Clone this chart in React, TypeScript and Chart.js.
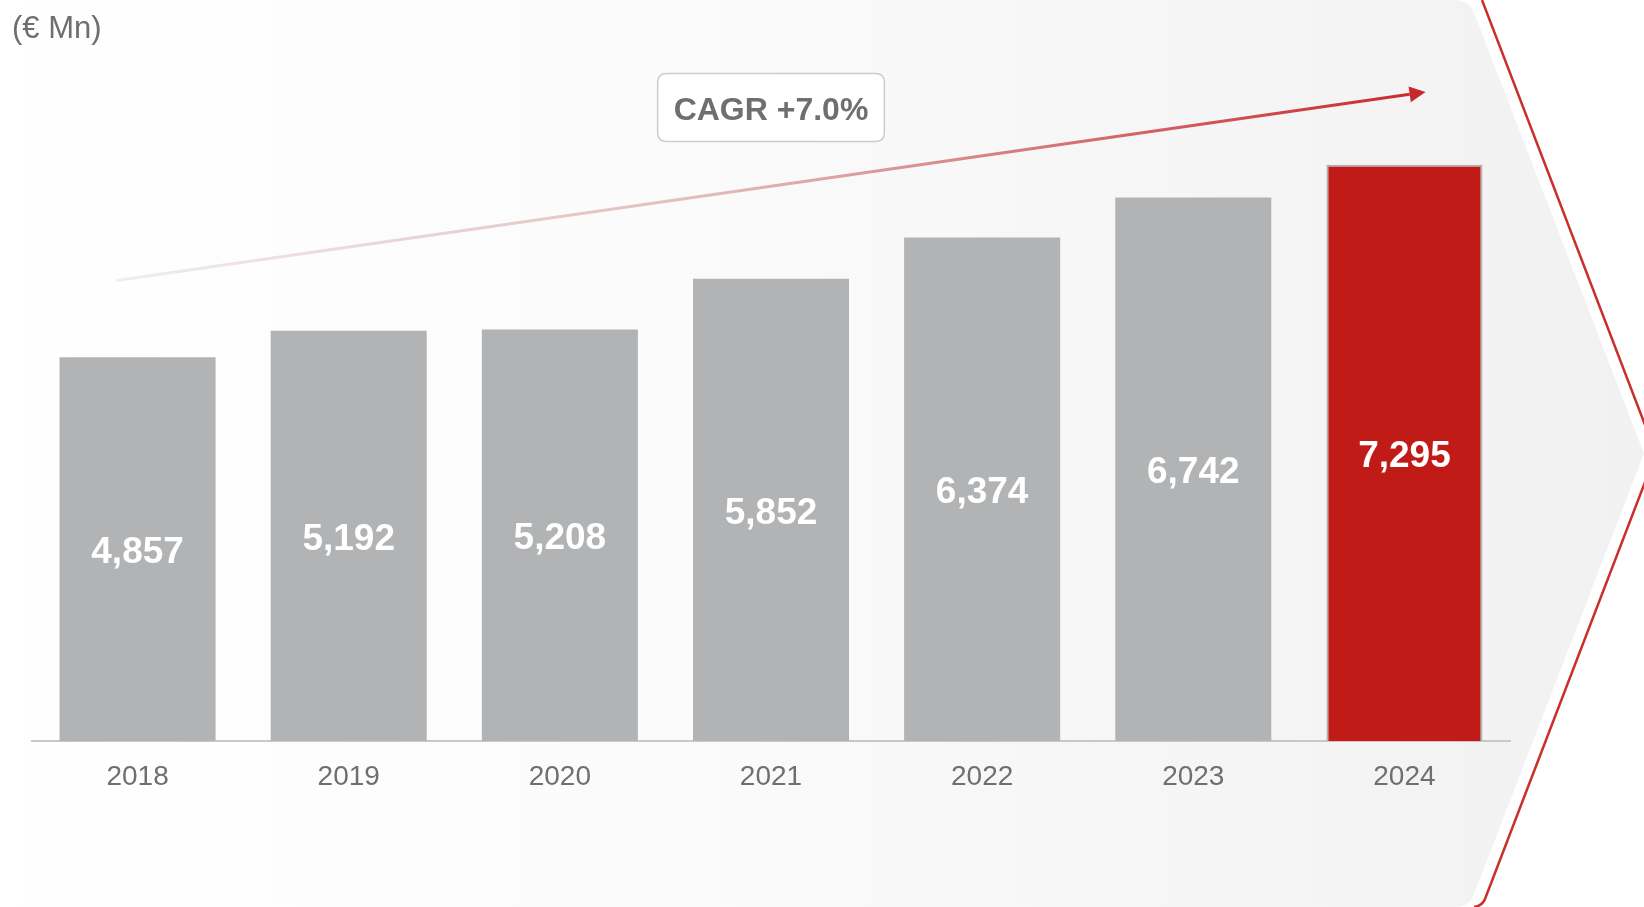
import React, { useEffect, useRef } from "react";
import { Chart, registerables } from "chart.js";

Chart.register(...registerables);

const years = ["2018", "2019", "2020", "2021", "2022", "2023", "2024"];
// bar heights as drawn in the picture (the 2023 bar is drawn taller than its printed value)
const barValues = [4857, 5192, 5208, 5852, 6374, 6880, 7295];
// values printed inside the bars
const valueLabels = ["4,857", "5,192", "5,208", "5,852", "6,374", "6,742", "7,295"];
const barColors = ["#b2b3b5", "#b2b3b5", "#b2b3b5", "#b2b3b5", "#b2b3b5", "#b2b3b5", "#c01b17"];
const barBorders = [0, 0, 0, 0, 0, 0, 2];
const unitLabel = "(€ Mn)";
const cagrLabel = "CAGR +7.0%";
const yMax = 9000;
// trend arrow anchors, in (category index, value) space
const arrowFrom = { index: -0.1, value: 5830 };
const arrowTo = { index: 6.1, value: 8215 };
const cagrAnchor = { index: 3, value: 8020 };

const FONT = "'Liberation Sans', Arial, sans-serif";
const TEXT_GRAY = "#6f6f6f";

const backgroundPlugin = {
  id: "bgShape",
  beforeDraw(chart: any) {
    const ctx = chart.ctx as CanvasRenderingContext2D;
    const W = chart.width;
    const H = chart.height;
    const mid = H / 2;
    ctx.save();
    ctx.fillStyle = "#ffffff";
    ctx.fillRect(0, 0, W, H);
    const g = ctx.createLinearGradient(0, 0, W, 0);
    g.addColorStop(0, "#ffffff");
    g.addColorStop(0.4, "#fbfbfb");
    g.addColorStop(1, "#f1f1f1");
    ctx.fillStyle = g;
    ctx.beginPath();
    ctx.moveTo(0, 0);
    ctx.lineTo(W - 190, 0);
    ctx.quadraticCurveTo(W - 176, 0, W - 171, 10);
    ctx.lineTo(W, mid);
    ctx.lineTo(W - 171, H - 10);
    ctx.quadraticCurveTo(W - 176, H, W - 190, H);
    ctx.lineTo(0, H);
    ctx.closePath();
    ctx.fill();

    // red outline chevron
    ctx.strokeStyle = "#c8302c";
    ctx.lineWidth = 2.5;
    ctx.beginPath();
    ctx.moveTo(W - 162, 0);
    ctx.lineTo(W + 12, mid);
    ctx.lineTo(W - 159, H - 8);
    ctx.quadraticCurveTo(W - 162, H - 1, W - 170, H);
    ctx.stroke();

    // unit label
    ctx.fillStyle = TEXT_GRAY;
    ctx.font = `31px ${FONT}`;
    ctx.textAlign = "left";
    ctx.textBaseline = "middle";
    ctx.fillText(unitLabel, 12, 29);
    ctx.restore();
  },
};

const overlayPlugin = {
  id: "overlay",
  afterDatasetsDraw(chart: any) {
    const ctx = chart.ctx as CanvasRenderingContext2D;
    const xS = chart.scales.x;
    const yS = chart.scales.y;
    const meta = chart.getDatasetMeta(0);
    ctx.save();
    // value labels inside bars
    ctx.fillStyle = "#ffffff";
    ctx.font = `bold 37px ${FONT}`;
    ctx.textAlign = "center";
    ctx.textBaseline = "middle";
    meta.data.forEach((bar: any, i: number) => {
      const cy = (bar.y + bar.base) / 2 + 4;
      ctx.fillText(valueLabels[i], bar.x, cy);
    });

    // trend arrow
    const x1 = xS.getPixelForValue(arrowFrom.index);
    const y1 = yS.getPixelForValue(arrowFrom.value);
    const x2 = xS.getPixelForValue(arrowTo.index);
    const y2 = yS.getPixelForValue(arrowTo.value);
    const ang = Math.atan2(y2 - y1, x2 - x1);
    const headLen = 16;
    const headW = 8;
    const bx = x2 - headLen * Math.cos(ang);
    const by = y2 - headLen * Math.sin(ang);
    const lg = ctx.createLinearGradient(x1, y1, x2, y2);
    lg.addColorStop(0, "#f1eeee");
    lg.addColorStop(0.45, "#e2bcbc");
    lg.addColorStop(1, "#c8282b");
    ctx.strokeStyle = lg;
    ctx.lineWidth = 3;
    ctx.beginPath();
    ctx.moveTo(x1, y1);
    ctx.lineTo(bx, by);
    ctx.stroke();
    ctx.fillStyle = "#c8282b";
    ctx.beginPath();
    ctx.moveTo(x2, y2);
    ctx.lineTo(bx + headW * Math.sin(ang), by - headW * Math.cos(ang));
    ctx.lineTo(bx - headW * Math.sin(ang), by + headW * Math.cos(ang));
    ctx.closePath();
    ctx.fill();

    // CAGR box
    const cx = xS.getPixelForValue(cagrAnchor.index);
    const cy = yS.getPixelForValue(cagrAnchor.value);
    ctx.font = `bold 32px ${FONT}`;
    const tw = ctx.measureText(cagrLabel).width;
    const bw = tw + 32;
    const bh = 68;
    const r = 9;
    const left = cx - bw / 2;
    const top = cy - bh / 2;
    ctx.beginPath();
    ctx.moveTo(left + r, top);
    ctx.lineTo(left + bw - r, top);
    ctx.quadraticCurveTo(left + bw, top, left + bw, top + r);
    ctx.lineTo(left + bw, top + bh - r);
    ctx.quadraticCurveTo(left + bw, top + bh, left + bw - r, top + bh);
    ctx.lineTo(left + r, top + bh);
    ctx.quadraticCurveTo(left, top + bh, left, top + bh - r);
    ctx.lineTo(left, top + r);
    ctx.quadraticCurveTo(left, top, left + r, top);
    ctx.closePath();
    ctx.fillStyle = "#ffffff";
    ctx.fill();
    ctx.strokeStyle = "#cccccc";
    ctx.lineWidth = 1.5;
    ctx.stroke();
    ctx.fillStyle = TEXT_GRAY;
    ctx.textAlign = "center";
    ctx.textBaseline = "middle";
    ctx.fillText(cagrLabel, cx, cy + 4);
    ctx.restore();
  },
};

export default function App() {
  const canvasRef = useRef<HTMLCanvasElement | null>(null);

  useEffect(() => {
    if (!canvasRef.current) return;
    const chart = new Chart(canvasRef.current, {
      type: "bar",
      data: {
        labels: years,
        datasets: [
          {
            data: barValues,
            backgroundColor: barColors,
            borderColor: "#b0b0b0",
            borderWidth: barBorders,
            borderSkipped: "bottom",
            categoryPercentage: 1,
            barPercentage: 0.739,
          },
        ],
      },
      options: {
        animation: false,
        responsive: false,
        devicePixelRatio: 1,
        layout: { padding: { left: 32, right: 134, top: 30, bottom: 0 } },
        plugins: {
          legend: { display: false },
          tooltip: { enabled: false },
        },
        scales: {
          x: {
            grid: { display: false, drawTicks: false },
            border: { display: true, color: "#c8c8c8", width: 2 },
            ticks: {
              color: TEXT_GRAY,
              font: { family: FONT, size: 28 },
              padding: 19,
            },
            afterFit(scale: any) {
              scale.height = 166;
            },
          },
          y: {
            display: false,
            min: 0,
            max: yMax,
          },
        },
      },
      plugins: [backgroundPlugin, overlayPlugin],
    });
    return () => chart.destroy();
  }, []);

  return (
    <div style={{ position: "fixed", left: 0, top: 0, width: 1644, height: 907 }}>
      <canvas ref={canvasRef} width={1644} height={907} style={{ display: "block" }} />
    </div>
  );
}
